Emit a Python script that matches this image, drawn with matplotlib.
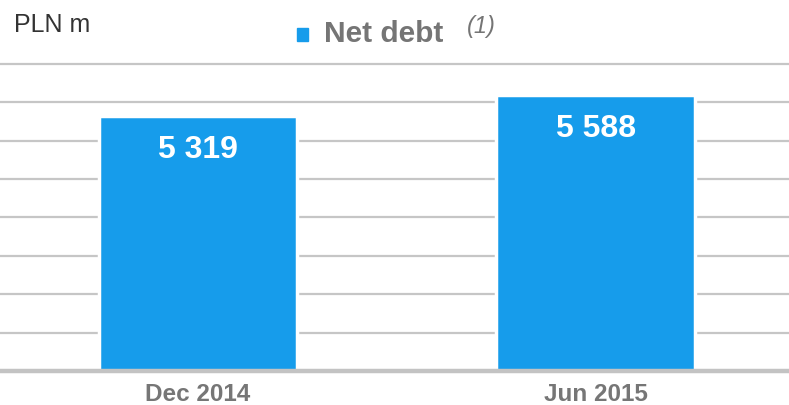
import matplotlib.pyplot as plt
from matplotlib.patches import Rectangle

categories = ["Dec 2014", "Jun 2015"]
net_debt = [5319, 5588]
labels = ["5 319", "5 588"]

blue = "#169ceb"
plt.rcParams['font.family'] = ['Liberation Sans', 'DejaVu Sans']

fig = plt.figure(figsize=(7.89, 4.06), dpi=100)
ax = fig.add_axes([0, 34 / 406, 1, 314.9 / 406])

x = range(len(categories))
bars = ax.bar(x, net_debt, width=0.5, color=blue, edgecolor="white",
              linewidth=2.5, zorder=2)
for b, v, t in zip(bars, net_debt, labels):
    ax.text(b.get_x() + b.get_width() / 2, v - 430, t, ha="center", va="center",
            color="white", fontsize=23, fontweight="bold", zorder=3)

ax.set_xlim(-0.4975, 1.485)
ax.set_ylim(2000, 6100)
ax.set_yticks(range(2000, 6001, 500))
ax.yaxis.grid(True, color="#c6c6c6", linewidth=1.6, zorder=0)
ax.set_axisbelow(True)
ax.tick_params(axis="y", left=False, labelleft=False)
ax.set_xticks(list(x))
ax.set_xticklabels(categories, fontsize=17.5, fontweight="bold", color="#767676")
ax.tick_params(axis="x", length=0, pad=8)
for s in ["top", "left", "right"]:
    ax.spines[s].set_visible(False)
ax.spines["bottom"].set_color("#c3c3c3")
ax.spines["bottom"].set_linewidth(3.2)
ax.spines["bottom"].set_zorder(4)

fig.text(14 / 789, 1 - 25 / 406, "PLN m", fontsize=18, color="#333333",
         ha="left", va="center")
fig.patches.append(Rectangle((297 / 789, 1 - 42 / 406), 11 / 789, 13 / 406,
                             transform=fig.transFigure, color=blue))
fig.text(324 / 789, 1 - 34 / 406, "Net debt", fontsize=21.5, fontweight="bold",
         color="#757575", ha="left", va="center")
fig.text(467 / 789, 1 - 27 / 406, "(1)", fontsize=17, fontstyle="italic",
         color="#757575", ha="left", va="center")

fig.savefig("out.png", dpi=100)
